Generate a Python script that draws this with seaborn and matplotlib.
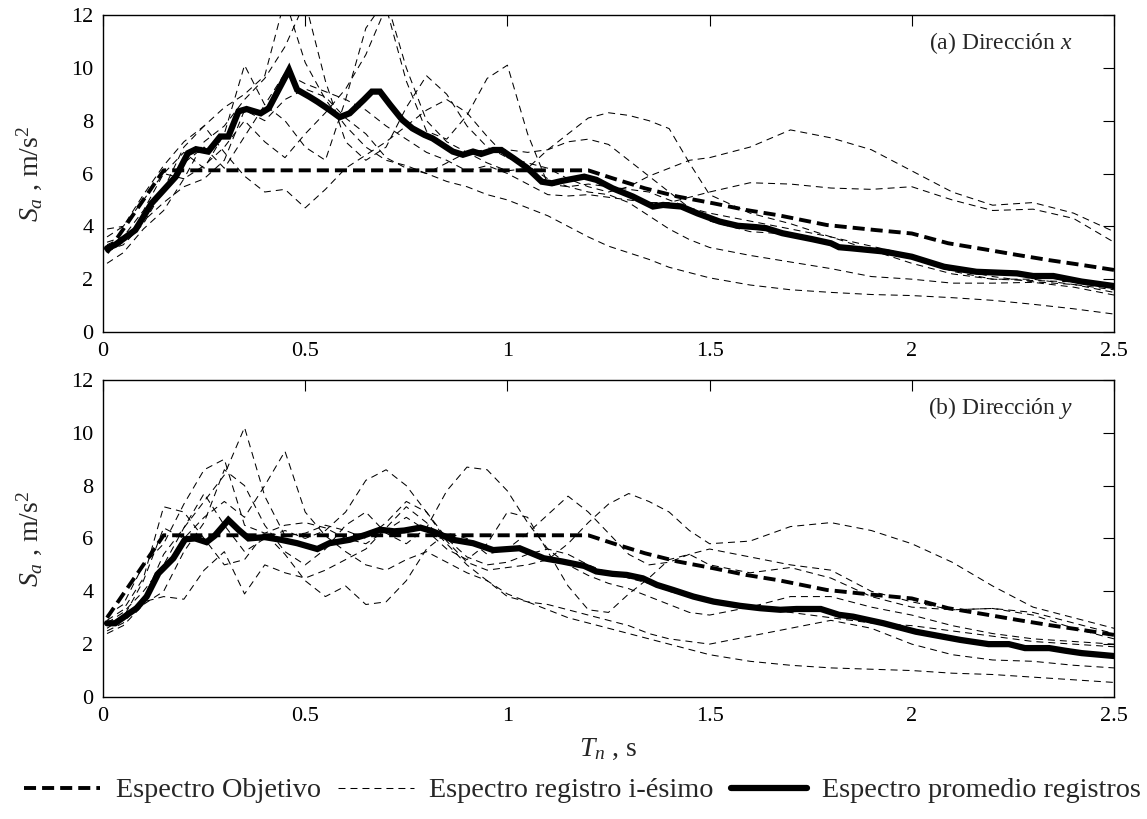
import matplotlib
matplotlib.use("Agg")
import matplotlib.pyplot as plt
import seaborn as sns
from matplotlib.lines import Line2D

# ---------------- data ----------------
T = [0.01, 0.05, 0.10, 0.15, 0.20, 0.25, 0.30, 0.35, 0.40, 0.45,
     0.50, 0.55, 0.60, 0.65, 0.70, 0.75, 0.80, 0.85, 0.90, 0.95,
     1.00, 1.05, 1.10, 1.15, 1.20, 1.25, 1.30, 1.35, 1.40, 1.45,
     1.50, 1.6, 1.7, 1.8, 1.9, 2.0, 2.1, 2.2, 2.3, 2.4, 2.5]

# individual records, direction x
rec_x1 = [3.6, 4.0, 5.2, 6.3, 7.2, 7.8, 8.5, 9.0, 9.7, 12.6,
          10.2, 8.8, 7.8, 7.0, 6.5, 6.3, 6.0, 5.7, 5.5, 5.2,
          5.0, 4.7, 4.4, 4.0, 3.6, 3.25, 3.0, 2.75, 2.45, 2.25,
          2.05, 1.78, 1.6, 1.5, 1.42, 1.38, 1.3, 1.2, 1.05, 0.88, 0.68]
rec_x2 = [3.3, 3.6, 4.6, 6.0, 5.8, 7.2, 7.8, 8.8, 9.6, 10.8,
          12.5, 9.5, 7.2, 6.5, 7.0, 8.5, 9.7, 9.0, 7.8, 7.0,
          6.6, 6.3, 5.8, 5.5, 5.3, 5.2, 4.9, 4.4, 3.9, 3.5,
          3.2, 2.9, 2.65, 2.4, 2.1, 2.0, 1.85, 1.85, 1.88, 1.7, 1.4]
rec_x3 = [3.0, 3.4, 4.4, 5.4, 6.4, 7.0, 6.2, 7.4, 8.6, 8.0,
          7.0, 6.5, 8.8, 11.5, 12.6, 10.0, 8.0, 7.2, 6.8, 6.4,
          6.1, 6.2, 6.9, 7.5, 8.1, 8.3, 8.2, 8.0, 7.7, 6.4,
          5.2, 4.5, 4.1, 3.6, 3.1, 2.6, 2.2, 2.0, 2.0, 1.8, 1.5]
rec_x4 = [2.6, 3.0, 3.9, 4.6, 5.8, 6.3, 7.0, 8.0, 7.2, 6.6,
          7.5, 8.3, 9.2, 10.5, 12.3, 9.5, 7.6, 7.3, 8.2, 9.6,
          10.1, 7.5, 5.6, 5.5, 5.6, 5.5, 5.4, 5.3, 5.0, 4.7,
          4.5, 4.2, 3.9, 3.6, 3.25, 2.9, 2.4, 2.1, 1.9, 1.8, 1.6]
rec_x5 = [3.1, 3.3, 4.1, 5.4, 7.0, 7.8, 6.8, 5.9, 5.3, 5.4,
          4.7, 5.4, 6.2, 6.7, 7.2, 7.8, 8.4, 8.8, 8.3, 7.4,
          6.6, 6.4, 6.2, 5.8, 5.5, 5.3, 5.5, 5.9, 6.2, 6.5,
          6.6, 7.0, 7.65, 7.35, 6.9, 6.1, 5.3, 4.8, 4.9, 4.5, 3.8]
rec_x6 = [3.9, 4.0, 5.0, 6.0, 6.8, 6.2, 7.5, 10.1, 8.6, 9.8,
          9.4, 9.1, 8.8, 8.4, 7.8, 7.3, 6.8, 6.5, 6.1, 6.3,
          6.0, 5.6, 5.2, 5.15, 5.2, 5.1, 5.0, 4.9, 4.9, 5.1,
          5.3, 5.65, 5.6, 5.45, 5.4, 5.5, 5.0, 4.6, 4.65, 4.3, 3.4]
rec_x7 = [3.4, 3.6, 4.2, 4.9, 5.5, 5.8, 6.5, 8.4, 8.0, 8.8,
          9.2, 8.9, 8.1, 7.5, 6.6, 6.2, 6.0, 6.4, 6.8, 6.9,
          6.9, 6.8, 6.9, 7.2, 7.3, 7.1, 6.5, 5.9, 5.3, 4.7,
          4.2, 3.8, 3.7, 3.3, 3.1, 2.85, 2.3, 2.0, 1.95, 1.9, 1.7]

# individual records, direction y
rec_y1 = [2.5, 2.8, 3.7, 5.4, 6.4, 7.4, 8.4, 10.2, 7.6, 6.1,
          6.2, 6.5, 6.3, 6.0, 6.6, 7.4, 7.0, 6.0, 5.3, 5.0,
          5.1, 5.4, 5.6, 5.4, 5.0, 4.7, 4.5, 4.3, 4.0, 3.8,
          3.6, 3.4, 3.2, 3.0, 2.8, 2.7, 2.5, 2.3, 2.1, 2.0, 1.9]
rec_y2 = [2.6, 3.0, 4.4, 6.4, 6.0, 6.8, 7.4, 6.8, 8.0, 9.3,
          7.0, 6.1, 5.5, 5.0, 4.8, 5.2, 5.5, 5.1, 4.7, 4.4,
          3.9, 3.6, 3.3, 3.0, 2.8, 2.6, 2.4, 2.2, 2.0, 1.8,
          1.6, 1.35, 1.2, 1.1, 1.05, 1.0, 0.9, 0.85, 0.75, 0.65, 0.55]
rec_y3 = [2.8, 3.2, 4.0, 5.0, 6.4, 7.7, 6.5, 5.5, 6.0, 6.3,
          6.0, 6.3, 7.0, 8.2, 8.6, 8.0, 7.0, 5.9, 5.1, 4.8,
          4.9, 5.0, 5.2, 5.8, 6.6, 7.3, 7.7, 7.4, 7.0, 6.3,
          5.8, 5.9, 6.45, 6.6, 6.3, 5.8, 5.1, 4.2, 3.4, 3.0, 2.6]
rec_y4 = [2.4, 2.7, 3.5, 4.0, 5.5, 6.6, 8.6, 8.0, 6.5, 5.5,
          5.0, 5.6, 6.5, 7.0, 6.2, 5.8, 6.4, 7.8, 8.7, 8.6,
          7.8, 6.6, 5.6, 5.0, 4.6, 4.3, 4.1, 3.8, 3.5, 3.2,
          3.1, 3.4, 3.8, 3.8, 3.4, 3.1, 2.7, 2.4, 2.2, 2.1, 2.0]
rec_y5 = [2.9, 3.3, 4.5, 7.2, 7.0, 6.0, 5.0, 5.2, 6.2, 5.4,
          4.4, 3.8, 4.2, 3.5, 3.6, 4.4, 5.6, 6.2, 6.0, 5.4,
          5.6, 6.2, 6.9, 7.6, 7.0, 6.2, 5.4, 5.0, 5.1, 5.4,
          5.6, 5.3, 5.0, 4.8, 4.0, 3.6, 3.3, 3.35, 3.2, 2.8, 2.4]
rec_y6 = [2.7, 2.9, 3.6, 3.8, 3.7, 4.8, 5.5, 3.9, 5.0, 4.7,
          4.5, 4.8, 5.2, 5.6, 6.4, 7.2, 6.6, 5.8, 5.0, 4.4,
          3.8, 3.6, 3.5, 3.3, 3.1, 2.9, 2.7, 2.4, 2.2, 2.1,
          2.0, 2.3, 2.6, 2.9, 2.6, 2.0, 1.6, 1.4, 1.35, 1.2, 1.1]
rec_y7 = [3.1, 3.5, 5.0, 5.8, 7.3, 8.6, 9.0, 6.5, 6.2, 6.5,
          6.6, 6.4, 6.0, 5.8, 6.3, 6.8, 6.3, 5.6, 5.2, 5.8,
          7.0, 6.8, 5.5, 4.2, 3.3, 3.2, 3.9, 4.5, 5.2, 5.4,
          5.0, 4.7, 4.9, 4.5, 3.8, 3.4, 3.3, 3.35, 3.1, 2.6, 2.2]

# target spectrum (same for both directions)
T_obj = [0.01, 0.15, 1.20, 1.26, 1.34, 1.42, 1.51, 1.59, 1.67, 1.79,
         1.91, 2.00, 2.09, 2.18, 2.26, 2.34, 2.42, 2.50]
Sa_obj = [3.0, 6.12, 6.12, 5.82, 5.44, 5.13, 4.87, 4.62, 4.42, 4.05,
          3.86, 3.73, 3.36, 3.13, 2.92, 2.72, 2.54, 2.35]

# mean of records, direction x
T_mean_x = [0.01, 0.03, 0.08, 0.12, 0.18, 0.21, 0.23, 0.26, 0.29, 0.31,
            0.335, 0.355, 0.39, 0.41, 0.46, 0.48, 0.51, 0.53, 0.56, 0.585,
            0.61, 0.645, 0.665, 0.685, 0.71, 0.74, 0.765, 0.795, 0.815, 0.84,
            0.865, 0.89, 0.915, 0.935, 0.965, 0.985, 1.015, 1.05, 1.085, 1.11,
            1.135, 1.19, 1.22, 1.26, 1.31, 1.36, 1.385, 1.43, 1.47, 1.525,
            1.57, 1.615, 1.64, 1.68, 1.755, 1.8, 1.82, 1.85, 1.93, 2.0,
            2.08, 2.16, 2.26, 2.3, 2.35, 2.42, 2.5]
mean_x = [3.17, 3.3, 3.86, 4.87, 5.88, 6.77, 6.92, 6.83, 7.4, 7.4,
          8.35, 8.44, 8.28, 8.47, 9.92, 9.17, 8.91, 8.72, 8.41, 8.13,
          8.28, 8.79, 9.1, 9.1, 8.6, 8.03, 7.71, 7.46, 7.33, 7.08,
          6.83, 6.71, 6.83, 6.74, 6.89, 6.89, 6.58, 6.2, 5.69, 5.63,
          5.72, 5.88, 5.76, 5.44, 5.13, 4.75, 4.81, 4.75, 4.49, 4.18,
          4.02, 3.97, 3.93, 3.74, 3.51, 3.36, 3.21, 3.17, 3.05, 2.85,
          2.47, 2.28, 2.22, 2.12, 2.12, 1.91, 1.74]

# mean of records, direction y
T_mean_y = [0.01, 0.03, 0.083, 0.108, 0.137, 0.174, 0.203, 0.228, 0.256, 0.276,
            0.31, 0.335, 0.36, 0.40, 0.44, 0.48, 0.53, 0.56, 0.61, 0.65,
            0.685, 0.72, 0.745, 0.785, 0.815, 0.865, 0.915, 0.965, 1.03, 1.09,
            1.135, 1.19, 1.22, 1.26, 1.295, 1.335, 1.37, 1.41, 1.46, 1.51,
            1.575, 1.625, 1.675, 1.715, 1.775, 1.82, 1.855, 1.93, 2.01, 2.12,
            2.19, 2.24, 2.28, 2.34, 2.38, 2.42, 2.5]
mean_y = [2.79, 2.79, 3.36, 3.8, 4.68, 5.25, 5.97, 6.0, 5.86, 6.1,
          6.7, 6.33, 6.0, 6.05, 5.95, 5.82, 5.6, 5.82, 5.95, 6.14,
          6.33, 6.27, 6.3, 6.41, 6.27, 5.95, 5.82, 5.56, 5.63, 5.25,
          5.13, 4.96, 4.75, 4.66, 4.62, 4.49, 4.24, 4.05, 3.8, 3.61,
          3.45, 3.36, 3.3, 3.33, 3.33, 3.11, 3.04, 2.79, 2.47, 2.16,
          2.0, 2.0, 1.85, 1.85, 1.75, 1.66, 1.55]

records_x = [rec_x1, rec_x2, rec_x3, rec_x4, rec_x5, rec_x6, rec_x7]
records_y = [rec_y1, rec_y2, rec_y3, rec_y4, rec_y5, rec_y6, rec_y7]

x_ticks = [0, 0.5, 1, 1.5, 2, 2.5]
x_tick_labels = ["0", "0.5", "1", "1.5", "2", "2.5"]
y_ticks = [0, 2, 4, 6, 8, 10, 12]

legend_labels = ["Espectro Objetivo", "Espectro registro i-ésimo",
                 "Espectro promedio registros"]
panel_titles = ["(a) Dirección $x$", "(b) Dirección $y$"]

# ---------------- style ----------------
sns.set_style("white")
plt.rcParams["font.family"] = ["Liberation Serif", "DejaVu Serif"]
plt.rcParams["mathtext.fontset"] = "custom"
plt.rcParams["mathtext.rm"] = "Liberation Serif"
plt.rcParams["mathtext.it"] = "Liberation Serif:italic"

rec_style = dict(color="black", lw=0.75, linestyle=(0, (6.7, 4.8)))
obj_style = dict(color="black", lw=2.8, linestyle=(0, (3.1, 1.55)))
mean_style = dict(color="black", lw=4.5, linestyle="-", solid_joinstyle="miter")

fig = plt.figure(figsize=(11.47, 8.19), dpi=100)
ax_top = fig.add_axes([0.0898, 0.5946, 0.8814, 0.3871])
ax_bot = fig.add_axes([0.0898, 0.1490, 0.8814, 0.3871])

for ax, recs, tm, mm, title in [(ax_top, records_x, T_mean_x, mean_x, panel_titles[0]),
                                (ax_bot, records_y, T_mean_y, mean_y, panel_titles[1])]:
    for r in recs:
        sns.lineplot(x=T, y=r, ax=ax, estimator=None, sort=False, **rec_style)
    sns.lineplot(x=T_obj, y=Sa_obj, ax=ax, estimator=None, sort=False, **obj_style)
    sns.lineplot(x=tm, y=mm, ax=ax, estimator=None, sort=False, **mean_style)

    ax.set_xlim(0, 2.5)
    ax.set_ylim(0, 12)
    ax.set_xticks(x_ticks)
    ax.set_xticklabels(x_tick_labels)
    ax.set_yticks(y_ticks)
    ax.tick_params(direction="in", length=8, width=0.8, top=True, right=True,
                   labelsize=16, pad=7, colors="black")
    for s in ax.spines.values():
        s.set_linewidth(1.0)
        s.set_color("black")
    ax.set_ylabel("$S_a$ , m/s$^2$", fontsize=20)
    ax.yaxis.set_label_coords(-0.058, 0.5)
    ax.set_xlabel("")
    ax.text(0.959, 0.912, title, transform=ax.transAxes, ha="right", va="center",
            fontsize=17)

ax_bot.set_xlabel("$T_n$ , s", fontsize=20, labelpad=8)

handles = [Line2D([], [], **obj_style),
           Line2D([], [], **rec_style),
           Line2D([], [], **mean_style)]
fig.legend(handles, legend_labels, loc="lower center", ncol=3, frameon=False,
           fontsize=20.3, handlelength=2.7, handletextpad=0.55, columnspacing=0.6,
           bbox_to_anchor=(0.508, -0.012))

fig.savefig("out.png", dpi=100)
